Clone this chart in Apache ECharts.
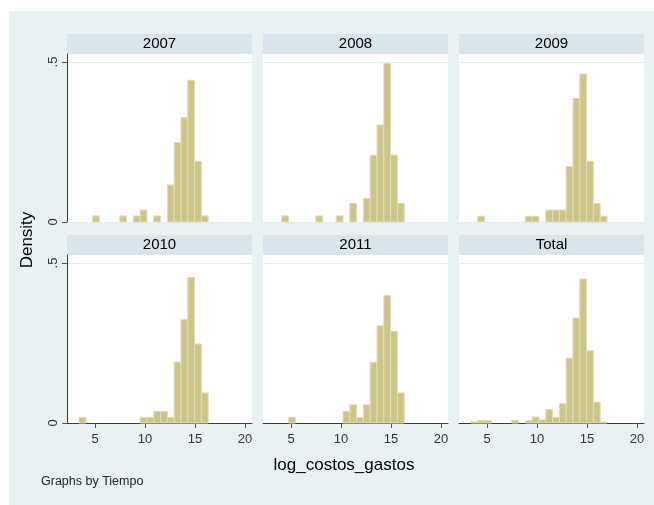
<!DOCTYPE html>
<html>
<head>
<meta charset="utf-8">
<script src="https://cdn.jsdelivr.net/npm/echarts@6/dist/echarts.min.js"></script>
<style>html,body{margin:0;padding:0;background:#fff}#c{width:654px;height:505px}</style>
</head>
<body>
<div id="c"></div>
<script>
// Histogram bin edges (log_costos_gastos)
const binEdges = [3.40, 4.08, 4.76, 5.44, 6.12, 6.80, 7.48, 8.16, 8.84, 9.52, 10.20, 10.88, 11.56, 12.24, 12.92, 13.60, 14.28, 14.96, 15.64, 16.32, 17.00];
// Panel titles
const panels = ['2007', '2008', '2009', '2010', '2011', 'Total'];
// Density per bin for each panel
const d2007  = [0, 0, 0.019, 0, 0, 0, 0.019, 0, 0.019, 0.0375, 0, 0.019, 0, 0.116, 0.248, 0.326, 0.443, 0.19, 0.019, 0];
const d2008  = [0, 0.019, 0, 0, 0, 0, 0.019, 0, 0, 0.019, 0, 0.058, 0, 0.074, 0.209, 0.303, 0.496, 0.209, 0.058, 0];
const d2009  = [0, 0.018, 0, 0, 0, 0, 0, 0, 0.018, 0.018, 0, 0.0375, 0.0375, 0.0375, 0.173, 0.386, 0.4625, 0.19, 0.058, 0.018];
const d2010  = [0.018, 0, 0, 0, 0, 0, 0, 0, 0, 0.018, 0.018, 0.036, 0.036, 0.018, 0.19, 0.323, 0.455, 0.247, 0.094, 0];
const d2011  = [0, 0, 0.018, 0, 0, 0, 0, 0, 0, 0, 0.036, 0.057, 0.018, 0.057, 0.19, 0.304, 0.398, 0.286, 0.094, 0];
const dTotal = [0.004, 0.008, 0.008, 0, 0, 0, 0.008, 0, 0.008, 0.019, 0.01, 0.042, 0.018, 0.06, 0.203, 0.328, 0.45, 0.226, 0.065, 0.003];
// Axis ticks
const xTicks = [5, 10, 15, 20];
const yTicks = [0, 0.5];
const yTickLabels = ['0', '.5'];

const densities = [d2007, d2008, d2009, d2010, d2011, dTotal];
const FONT = 'Liberation Sans, Arial, sans-serif';
const colLeft = [67, 263, 459];
const rowTop = [54, 255];
const gridW = 185, gridH = 168;

const grids = [], xAxes = [], yAxes = [], series = [], graphics = [];
graphics.push({type:'rect', z:-10, shape:{x:9, y:11, width:645, height:494}, style:{fill:'#eaf1f3'}});

panels.forEach((name, i) => {
  const r = Math.floor(i / 3), c = i % 3;
  grids.push({left: colLeft[c], top: rowTop[r], width: gridW, height: gridH,
    show: true, backgroundColor: '#ffffff', borderWidth: 0, containLabel: false});
  const bottomRow = r === 1;
  xAxes.push({type:'value', gridIndex:i, min:2.2, max:20.7,
    show: bottomRow,
    axisLine:{show:bottomRow, onZero:false, lineStyle:{color:'#3a3a3a', width:1}},
    axisTick:{show:bottomRow, customValues:xTicks, length:5, lineStyle:{color:'#555'}},
    axisLabel:{show:bottomRow, customValues:xTicks, color:'#333', fontSize:13, fontFamily:FONT, margin:10},
    splitLine:{show:false}});
  const leftCol = c === 0;
  yAxes.push({type:'value', gridIndex:i, min:0, max:0.525, interval:0.5,
    axisLine:{show:leftCol, lineStyle:{color:'#3a3a3a', width:1}},
    axisTick:{show:leftCol, customValues:yTicks, length:5, lineStyle:{color:'#555'}},
    axisLabel:{show:leftCol, customValues:yTicks, rotate:90, color:'#333', fontSize:13, fontFamily:FONT, margin:7,
      formatter: v => yTickLabels[yTicks.indexOf(v)] !== undefined ? yTickLabels[yTicks.indexOf(v)] : ''},
    splitLine:{show:true, lineStyle:{color:'#e6eef1', width:1}}});
  const data = [];
  densities[i].forEach((d, k) => { if (d > 0) data.push([binEdges[k], binEdges[k+1], d]); });
  series.push({type:'custom', xAxisIndex:i, yAxisIndex:i, data: data,
    encode:{x:[0,1], y:2},
    renderItem: (params, api) => {
      const p0 = api.coord([api.value(0), 0]);
      const p1 = api.coord([api.value(1), api.value(2)]);
      return {type:'rect', shape:{x:p0[0], y:p1[1], width:p1[0]-p0[0], height:p0[1]-p1[1]},
        style:{fill:'#ccc58a', stroke:'#e2deb2', lineWidth:1}};
    }});
  // strip header
  const sy = r === 0 ? 34 : 235;
  graphics.push({type:'rect', shape:{x:colLeft[c], y:sy, width:gridW, height:20}, style:{fill:'#d9e5ea'}});
  graphics.push({type:'text', x: colLeft[c] + gridW/2, y: sy + 10,
    style:{text:name, fill:'#000', font:'15px ' + FONT, textAlign:'center', textVerticalAlign:'middle'}});
});

graphics.push({type:'text', x:27, y:240, rotation:Math.PI/2,
  style:{text:'Density', fill:'#000', font:'17px ' + FONT, textAlign:'center', textVerticalAlign:'middle'}});
graphics.push({type:'text', x:344, y:465,
  style:{text:'log_costos_gastos', fill:'#000', font:'17px ' + FONT, textAlign:'center', textVerticalAlign:'middle'}});
graphics.push({type:'text', x:41, y:482,
  style:{text:'Graphs by Tiempo', fill:'#222', font:'12.5px ' + FONT, textAlign:'left', textVerticalAlign:'middle'}});

const chart = echarts.init(document.getElementById('c'), null, {renderer:'canvas'});
chart.setOption({backgroundColor:'#ffffff', animation:false, grid:grids, xAxis:xAxes, yAxis:yAxes, series:series, graphic:graphics});
</script>
</body>
</html>
